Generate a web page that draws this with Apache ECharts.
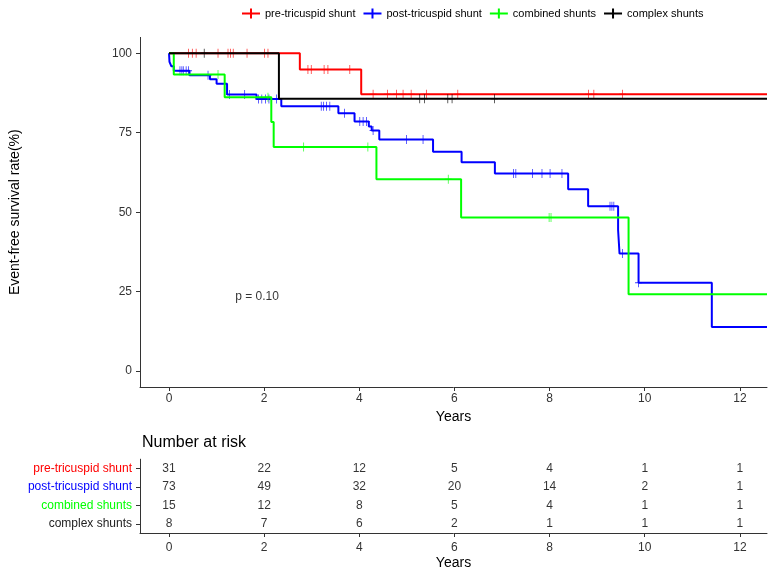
<!DOCTYPE html>
<html>
<head>
<meta charset="utf-8">
<script src="https://cdn.jsdelivr.net/npm/echarts@6/dist/echarts.min.js"></script>
<style>
  html, body { margin: 0; padding: 0; background: #fff; }
  #main { width: 774px; height: 571px; }
</style>
</head>
<body>
<div id="main"></div>
<script>
const groups = ['pre-tricuspid shunt', 'post-tricuspid shunt', 'combined shunts', 'complex shunts']
const colors = ['#ff0000', '#0000ff', '#00ff00', '#000000']

// survival steps (time in years, survival %)
const preTimes = [0, 2.75, 4.04, 12.57]
const preSurv = [100, 94.9, 87.1, 87.1]
const postTimes = [0, 0.01, 0.05, 0.1, 0.43, 0.86, 1.0, 1.22, 1.84, 2.36, 3.56, 3.9, 4.2, 4.26, 4.42, 5.55, 6.15, 6.85, 8.39, 8.81, 9.44, 9.47, 9.87, 11.41, 12.57]
const postSurv = [100, 97.3, 95.9, 94.5, 93.1, 91.8, 90.4, 87.0, 85.6, 83.3, 81.1, 78.5, 77.0, 75.7, 72.9, 69.0, 65.7, 62.2, 57.2, 51.9, 44.4, 37.0, 27.8, 13.9, 13.9]
const combTimes = [0, 0.1, 1.17, 2.15, 2.2, 4.36, 6.14, 9.66, 12.57]
const combSurv = [100, 93.3, 86.2, 78.4, 70.5, 60.4, 48.3, 24.2, 24.2]
const complexTimes = [0, 2.31, 12.57]
const complexSurv = [100, 85.7, 85.7]

// censored observations
const preCensor = [0.41, 0.49, 0.57, 1.03, 1.24, 1.29, 1.35, 1.64, 2.01, 2.08, 2.92, 2.99, 3.26, 3.34, 3.8, 4.29, 4.59, 4.78, 4.92, 5.09, 5.41, 6.07, 8.82, 8.93, 9.53]
const postCensor = [0.23, 0.27, 0.3, 0.36, 0.41, 0.82, 1.27, 1.59, 1.88, 1.95, 2.03, 2.1, 2.26, 3.2, 3.25, 3.31, 3.38, 3.69, 4.01, 4.08, 4.15, 4.29, 4.99, 5.34, 7.24, 7.29, 7.64, 7.84, 8.01, 8.26, 9.27, 9.31, 9.35, 9.53, 9.87]
const combCensor = [1.03, 2.08, 2.83, 4.18, 5.87, 7.99, 8.03]
const complexCensor = [0.74, 5.27, 5.37, 5.86, 5.95, 6.84]

// number at risk
const riskTimes = [0, 2, 4, 6, 8, 10, 12]
const preRisk = [31, 22, 12, 5, 4, 1, 1]
const postRisk = [73, 49, 32, 20, 14, 2, 1]
const combRisk = [15, 12, 8, 5, 4, 1, 1]
const complexRisk = [8, 7, 6, 2, 1, 1, 1]

const xTicks = [0, 2, 4, 6, 8, 10, 12]
const yTicks = [0, 25, 50, 75, 100]
const pText = 'p = 0.10'

const curves = [
    [preTimes, preSurv, preCensor],
    [postTimes, postSurv, postCensor],
    [combTimes, combSurv, combCensor],
    [complexTimes, complexSurv, complexCensor],
]
const risks = [preRisk, postRisk, combRisk, complexRisk]

// survival value at time t for a step curve
function survAt(times, surv, t) {
    let v = surv[0]
    for (let i = 0; i < times.length; i++) {
        if (times[i] <= t) v = surv[i]
    }
    return v
}

const plusIcon = 'path://M0,4.5 L9,4.5 L9,5.5 L0,5.5 Z M4,0 L5,0 L5,10 L4,10 Z'
const legendIcon = 'path://M0,4 L18,4 L18,6 L0,6 Z M8,0 L10,0 L10,10 L8,10 Z'
const font = 'Liberation Sans, Arial, sans-serif'

const myChart = echarts.init(document.getElementById('main'))

const series = []
curves.forEach((c, i) => {
    series.push({
        name: groups[i],
        type: 'line',
        step: 'end',
        xAxisIndex: 0,
        yAxisIndex: 0,
        showSymbol: false,
        silent: true,
        z: 2 + i,
        lineStyle: { color: colors[i], width: 2 },
        itemStyle: { color: colors[i] },
        data: c[0].map((t, k) => [t, c[1][k]]),
    })
    series.push({
        name: groups[i],
        type: 'scatter',
        xAxisIndex: 0,
        yAxisIndex: 0,
        symbol: plusIcon,
        symbolSize: [7, 9],
        silent: true,
        z: 2 + i,
        itemStyle: { color: colors[i] },
        data: c[2].map(t => [t, survAt(c[0], c[1], t)]),
    })
})

series.push({
    type: 'scatter',
    xAxisIndex: 0,
    yAxisIndex: 0,
    symbolSize: 0,
    silent: true,
    label: {
        show: true,
        position: [0, 0],
        align: 'center',
        verticalAlign: 'middle',
        formatter: pText,
        color: '#000',
        fontSize: 12,
        fontFamily: font,
    },
    data: [[1.85, 23.3]],
})

risks.forEach((r, i) => {
    series.push({
        type: 'scatter',
        xAxisIndex: 1,
        yAxisIndex: 1,
        symbolSize: 0,
        silent: true,
        label: {
            show: true,
            position: [0, 0],
            align: 'center',
            verticalAlign: 'middle',
            formatter: p => p.value[2],
            color: '#000',
            fontSize: 12,
            fontFamily: font,
        },
        data: riskTimes.map((t, k) => [t, groups[i], r[k]]),
    })
})

function lineStyleAxis() {
    return { show: true, onZero: false, lineStyle: { color: '#333', width: 1 } }
}
function tickStyle(custom) {
    const t = { show: true, length: 4, lineStyle: { color: '#333' } }
    if (custom) t.customValues = custom
    return t
}

function xAxisFor(idx, gap, margin) {
    return {
        gridIndex: idx,
        type: 'value',
        min: -0.61,
        max: 12.57,
        name: 'Years',
        nameLocation: 'middle',
        nameGap: gap,
        nameTextStyle: { fontSize: 14, color: '#000' },
        splitLine: { show: false },
        axisLine: lineStyleAxis(),
        axisTick: tickStyle(xTicks),
        axisLabel: { customValues: xTicks, fontSize: 12, color: '#333', margin: margin },
    }
}

const option = {
    animation: false,
    textStyle: { fontFamily: font },
    legend: {
        top: 3,
        left: 237,
        itemWidth: 18,
        itemHeight: 10,
        itemGap: 8,
        icon: legendIcon,
        textStyle: { fontSize: 11, color: '#000', fontFamily: font },
        data: groups.map((g, i) => ({ name: g, itemStyle: { color: colors[i] } })),
    },
    title: {
        text: 'Number at risk',
        left: 137,
        top: 430,
        textStyle: { fontSize: 16, fontWeight: 'normal', color: '#000', fontFamily: font },
    },
    grid: [
        { left: 140, top: 37.4, right: 7, height: 349.6 },
        { left: 140, top: 459.2, right: 7, height: 74 },
    ],
    xAxis: [xAxisFor(0, 22, 6), xAxisFor(1, 23, 9)],
    yAxis: [
        {
            gridIndex: 0,
            type: 'value',
            min: -5,
            max: 105,
            name: 'Event-free survival rate(%)',
            nameLocation: 'middle',
            nameGap: 118,
            nameRotate: 90,
            nameTextStyle: { fontSize: 14, color: '#000' },
            splitLine: { show: false },
            axisLine: lineStyleAxis(),
            axisTick: tickStyle(yTicks),
            axisLabel: { customValues: yTicks, fontSize: 12, color: '#333', margin: 8 },
        },
        {
            gridIndex: 1,
            type: 'category',
            inverse: true,
            data: groups,
            splitLine: { show: false },
            axisLine: lineStyleAxis(),
            axisTick: { ...tickStyle(), alignWithLabel: true },
            axisLabel: {
                fontSize: 12,
                margin: 8,
                color: (value) => {
                    const c = colors[groups.indexOf(value)]
                    return c === '#000000' ? '#222' : c
                },
            },
        },
    ],
    series: series,
}

myChart.setOption(option)
</script>
</body>
</html>
